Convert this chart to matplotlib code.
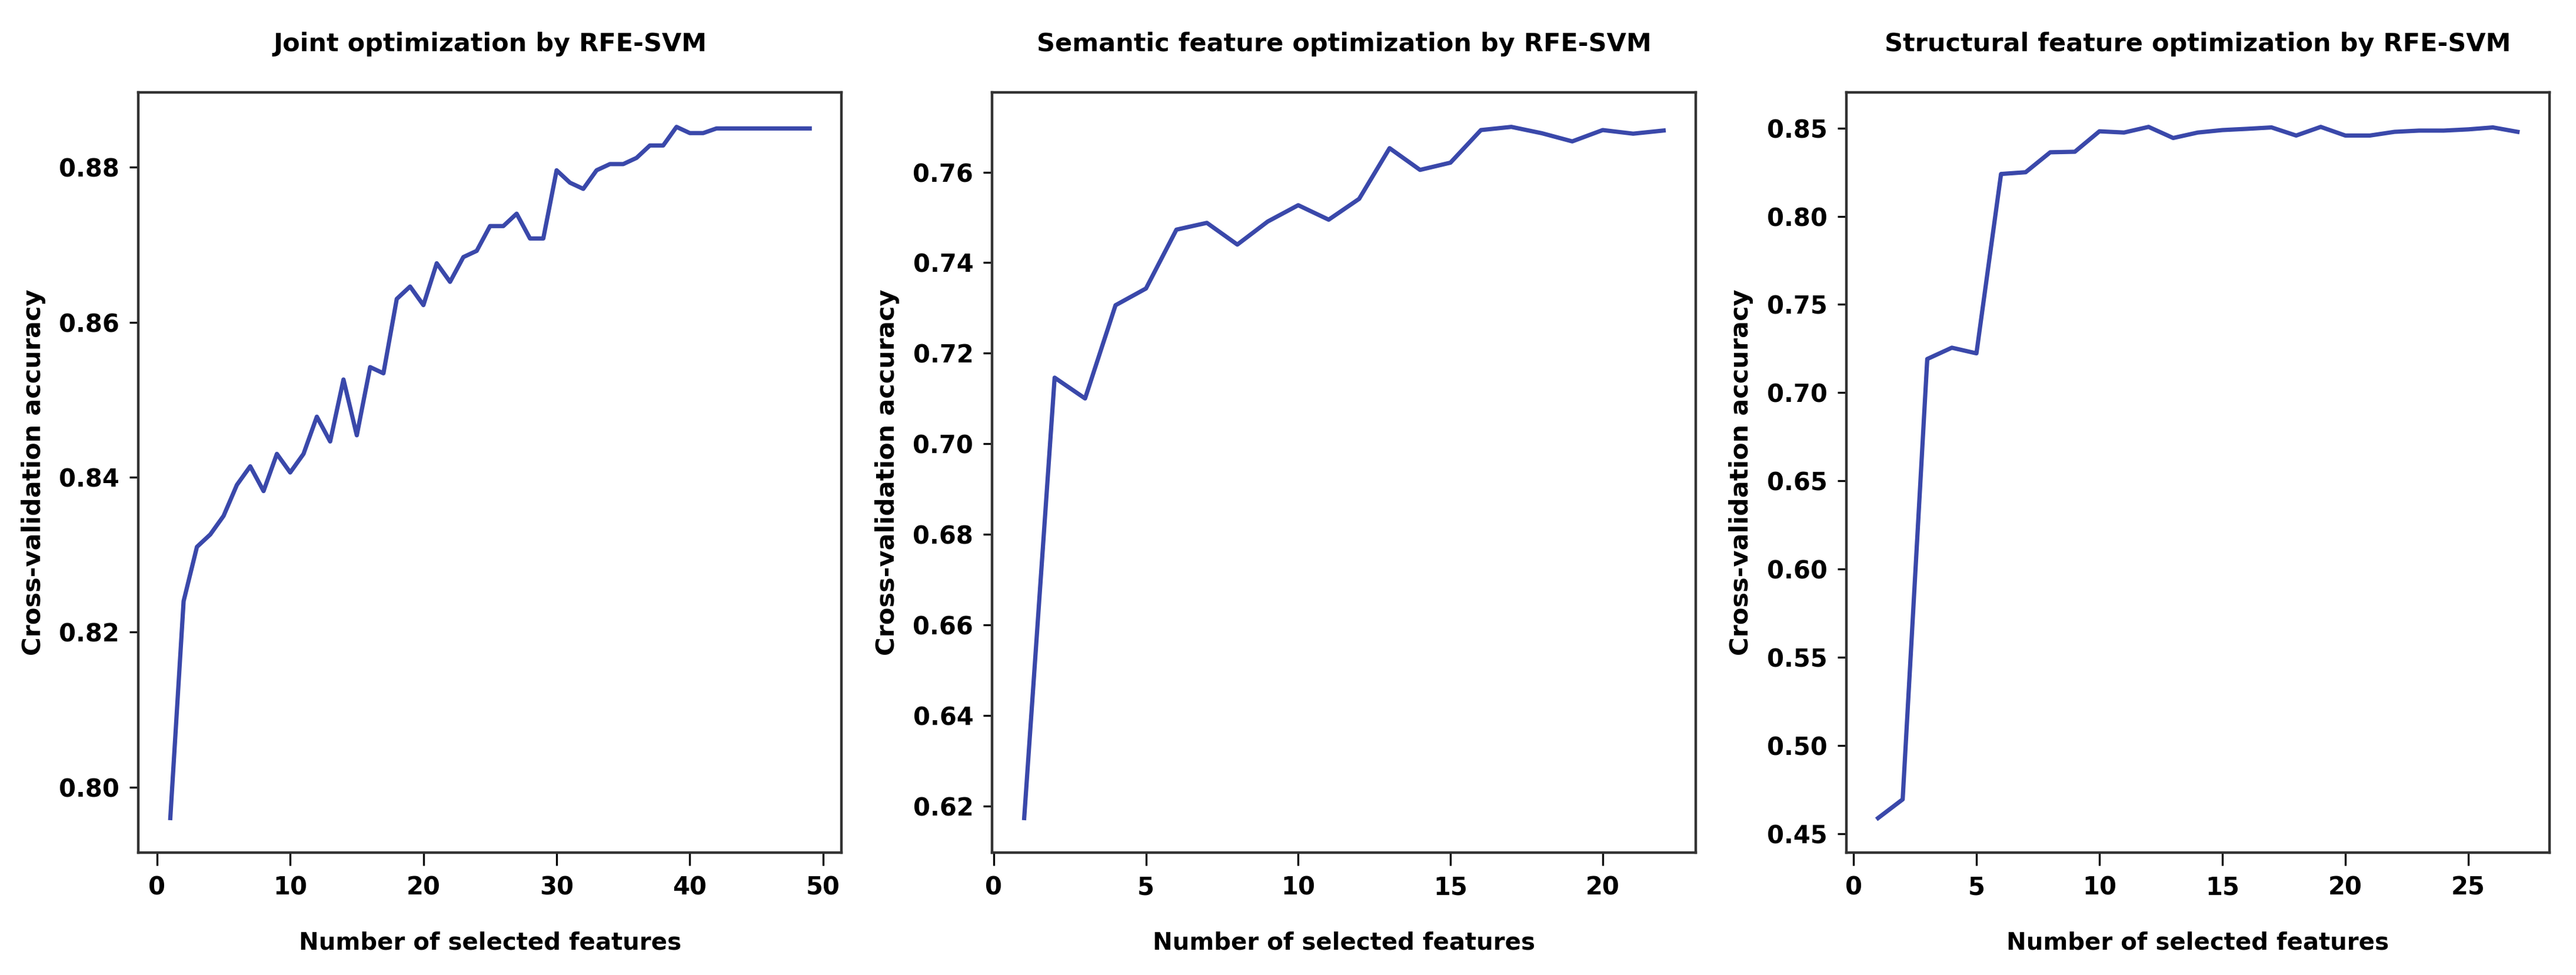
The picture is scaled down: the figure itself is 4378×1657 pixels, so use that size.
import matplotlib.pyplot as plt
from matplotlib.ticker import MultipleLocator

# cross-validation accuracy vs number of selected features
joint_acc = [0.796, 0.824, 0.831, 0.8326, 0.835, 0.839, 0.8414, 0.8382, 0.843, 0.8406,
             0.843, 0.8478, 0.8446, 0.8526, 0.8454, 0.8542, 0.8534, 0.863, 0.8646, 0.8622,
             0.8676, 0.8652, 0.8684, 0.8692, 0.8724, 0.8724, 0.874, 0.8708, 0.8708, 0.8796,
             0.878, 0.8772, 0.8796, 0.8804, 0.8804, 0.8812, 0.8828, 0.8828, 0.8852, 0.8844,
             0.8844, 0.885, 0.885, 0.885, 0.885, 0.885, 0.885, 0.885, 0.885]
semantic_acc = [0.6173, 0.7146, 0.7100, 0.7306, 0.7343, 0.7473, 0.7488, 0.7440, 0.7491, 0.7527,
                0.7495, 0.7541, 0.7653, 0.7605, 0.7621, 0.7693, 0.7700, 0.7686, 0.7668, 0.7693,
                0.7685, 0.7692]
structural_acc = [0.4588, 0.4694, 0.7191, 0.7255, 0.7223, 0.824, 0.825, 0.8363, 0.8366, 0.8482,
                  0.8475, 0.8507, 0.8444, 0.8475, 0.8489, 0.8496, 0.8504, 0.8458, 0.8507, 0.8458,
                  0.8458, 0.8479, 0.8486, 0.8486, 0.8493, 0.8504, 0.8479]

titles = ["Joint optimization by RFE-SVM",
          "Semantic feature optimization by RFE-SVM",
          "Structural feature optimization by RFE-SVM"]
series = [joint_acc, semantic_acc, structural_acc]
xsteps = [10, 5, 5]
ysteps = [0.02, 0.02, 0.05]

plt.rcParams['font.family'] = ['DejaVu Sans']
plt.rcParams['font.weight'] = 'bold'

fig, axes = plt.subplots(1, 3, figsize=(21.89, 8.285), dpi=200)
fig.subplots_adjust(left=0.0537, right=0.9897, top=0.9053, bottom=0.1255, wspace=0.214)

for ax, acc, title, xs, ys in zip(axes, series, titles, xsteps, ysteps):
    n = range(1, len(acc) + 1)
    ax.plot(n, acc, color='#3a48aa', lw=2.6)
    ax.set_title(title, fontsize=15.5, fontweight='bold', pad=25)
    ax.set_xlabel("Number of selected features", fontsize=14.5, fontweight='bold', labelpad=19)
    ax.set_ylabel("Cross-validation accuracy", fontsize=15.5, fontweight='bold', labelpad=8)
    ax.xaxis.set_major_locator(MultipleLocator(xs))
    ax.yaxis.set_major_locator(MultipleLocator(ys))
    ax.tick_params(axis='x', length=8, width=1.2, pad=6, labelsize=15)
    ax.tick_params(axis='y', length=5.5, width=1.2, pad=6, labelsize=15)
    for lab in ax.get_xticklabels() + ax.get_yticklabels():
        lab.set_fontweight('bold')
    for sp in ax.spines.values():
        sp.set_linewidth(1.6)
        sp.set_color('#333333')

fig.savefig("out.png", dpi=200)
